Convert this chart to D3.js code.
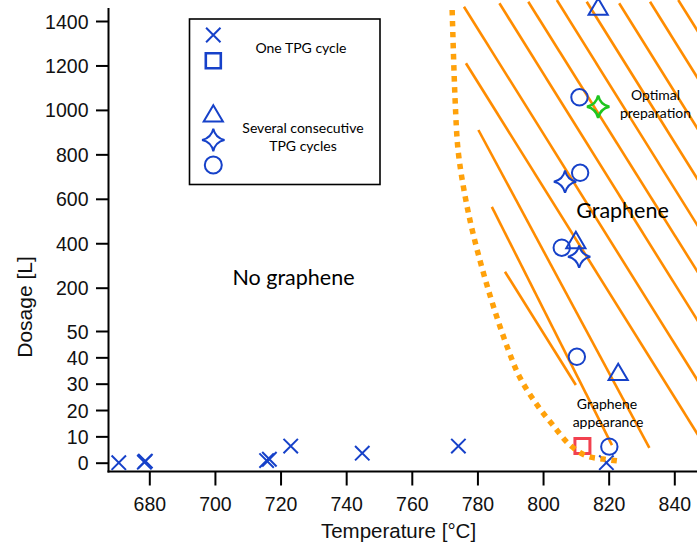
<!DOCTYPE html>
<html><head><meta charset="utf-8">
<script src="https://cdn.jsdelivr.net/npm/d3@7"></script>
<style>
html,body{margin:0;padding:0;background:#fff;}
svg{display:block;}
</style></head>
<body>
<svg id="chart" width="697" height="544"></svg>
<script>
// ---------- data ----------
const xTicks = [680, 700, 720, 740, 760, 780, 800, 820, 840];
const yTicks = [0, 10, 20, 30, 40, 50, 200, 400, 600, 800, 1000, 1200, 1400];

// One TPG cycle (crosses)
const crossT    = [670.7, 678.5, 678.8, 715.75, 716.6, 723.1, 744.9, 774.2, 819.3];
const crossDose = [0, 0.2, 0.6, 0.8, 1.3, 6.3, 3.6, 6.3, 0];
// One TPG cycle (square, graphene appearance)
const squareT    = [812.0];
const squareDose = [6.3];
// Several consecutive TPG cycles
const triT    = [816.8, 810.0, 822.9];
const triDose = [1465, 414.6, 34.5];
const starT    = [806.7, 811.0];
const starDose = [677, 339.5];
const circT    = [820.2, 810.3, 805.7, 811.3, 811.1];
const circDose = [6.1, 40.2, 380, 717, 1056.7];
// Optimal preparation
const optT    = [816.8];
const optDose = [1014.4];

// Boundary of the graphene region (dotted curve)
const boundT    = [772.3, 773.2, 774.1, 775.9, 778.7, 783.8, 789.3, 793.0, 798.2, 803.0, 808.2, 813.4, 818.3, 823.2];
const boundDose = [1449.5, 1044.5, 819.6, 639.6, 441.6, 174.7, 43.2, 32.2, 21.9, 14.3, 6.7, 2.5, 1.4, 0.6];

// Hatch lines of the graphene region: start (T, dose) -> end (T, dose)
const hatchT0    = [788.4, 784.4, 780.3, 776.5, 775.9, 786.7, 795.5, 804.2, 813.3, 823.2, 832.6, 841.2];
const hatchDose0 = [272, 564, 909.6, 1209.7, 1464.3, 1479.6, 1486.8, 1494.5, 1486.8, 1479.6, 1486.8, 1494.5];
const hatchT1    = [810.0, 821.0, 832.4, 847.8, 847.8, 847.8, 847.8, 847.8, 847.8, 847.8, 847.8, 847.8];
const hatchDose1 = [29.5, 6.7, 5.6, 9.45, 29.8, 73.2, 254.9, 462.8, 671.5, 899.2, 1127.3, 1338.4];

const legendLabels = ["One TPG cycle", "Several consecutive", "TPG cycles"];

// ---------- layout ----------
const svg = d3.select("#chart");
const x = d3.scaleLinear().domain([680, 840]).range([149.3, 674.3]);
const y = d3.scaleLinear().domain([0, 50, 200, 1400]).range([462.7, 331, 287.7, 21]);
const axisX = 108.5, axisY = 471.5;

const BLUE = "#1641c9", ORANGE = "#ff8c00", DOTS = "#ffa10a", RED = "#f2414f", GREEN = "#1fc51f";
const calibri = "Lato, 'Open Sans', sans-serif";
const arial = "'Liberation Sans', Arial, sans-serif";

// symbol paths
const sym = {
  cross: s => `M${-s},${-s}L${s},${s}M${-s},${s}L${s},${-s}`,
  square: s => `M${-s},${-s}H${s}V${s}H${-s}Z`,
  triangle: s => `M0,${-s*0.85}L${s},${s*0.85}L${-s},${s*0.85}Z`,
  star: s => { const k = s*0.18; return `M0,${-s}Q${k},${-k} ${s},0Q${k},${k} 0,${s}Q${-k},${k} ${-s},0Q${-k},${-k} 0,${-s}Z`; },
  circle: s => `M${s},0A${s},${s} 0 1 1 ${-s},0A${s},${s} 0 1 1 ${s},0Z`
};

// ---------- hatch lines ----------
const hatch = d3.range(hatchT0.length).map(i => ({t0: hatchT0[i], d0: hatchDose0[i], t1: hatchT1[i], d1: hatchDose1[i]}));
svg.append("g").selectAll("line").data(hatch).join("line")
  .attr("x1", d => x(d.t0)).attr("y1", d => y(d.d0))
  .attr("x2", d => x(d.t1)).attr("y2", d => y(d.d1))
  .attr("stroke", ORANGE).attr("stroke-width", 2.6);

// ---------- axes ----------
const gx = svg.append("g").attr("transform", `translate(0,${axisY})`)
  .call(d3.axisBottom(x).tickValues(xTicks).tickSize(14).tickPadding(12).tickSizeOuter(0));
gx.select(".domain").remove();
gx.selectAll(".tick line").attr("stroke", "#000").attr("stroke-width", 2);
gx.selectAll(".tick text").attr("font-family", arial).attr("font-size", 19.5).attr("fill", "#111");

const gy = svg.append("g").attr("transform", `translate(${axisX},0)`)
  .call(d3.axisLeft(y).tickValues(yTicks).tickSize(12.5).tickPadding(7.5).tickSizeOuter(0).tickFormat(d3.format("d")));
gy.select(".domain").remove();
gy.selectAll(".tick line").attr("stroke", "#000").attr("stroke-width", 2);
gy.selectAll(".tick text").attr("font-family", arial).attr("font-size", 19.5).attr("fill", "#111").attr("dy", "0.36em");

svg.append("line").attr("x1", axisX - 1).attr("x2", 697).attr("y1", axisY).attr("y2", axisY)
  .attr("stroke", "#000").attr("stroke-width", 2);
svg.append("line").attr("x1", axisX).attr("x2", axisX).attr("y1", 8).attr("y2", axisY + 1)
  .attr("stroke", "#000").attr("stroke-width", 2);

svg.append("text").attr("x", 398.5).attr("y", 537.5).attr("text-anchor", "middle")
  .attr("font-family", arial).attr("font-size", 20.5).attr("fill", "#111").text("Temperature [°C]");
svg.append("text").attr("transform", "translate(31.5,307) rotate(-90)").attr("text-anchor", "middle")
  .attr("font-family", arial).attr("font-size", 21).attr("fill", "#111").text("Dosage [L]");

// ---------- markers ----------
function drawMarkers(ts, ds, type, size, color, sw) {
  svg.append("g").selectAll("path").data(ts.map((t, i) => ({t, d: ds[i]}))).join("path")
    .attr("transform", p => `translate(${x(p.t)},${y(p.d)})`)
    .attr("d", sym[type](size))
    .attr("fill", "none").attr("stroke", color).attr("stroke-width", sw);
}
drawMarkers(crossT, crossDose, "cross", 7.2, BLUE, 2);
drawMarkers(squareT, squareDose, "square", 7.5, RED, 3);
drawMarkers(circT, circDose, "circle", 8.2, BLUE, 2);
drawMarkers(triT, triDose, "triangle", 9.6, BLUE, 2);
drawMarkers(starT, starDose, "star", 11.2, BLUE, 2);
drawMarkers(optT, optDose, "star", 11.2, GREEN, 2.5);

// ---------- boundary dotted curve ----------
const line = d3.line().x(d => x(d[0])).y(d => y(d[1])).curve(d3.curveCatmullRom);
svg.append("path").attr("d", line(boundT.map((t, i) => [t, boundDose[i]])))
  .attr("fill", "none").attr("stroke", DOTS).attr("stroke-width", 5.5).attr("stroke-dasharray", "5.5,5.5");

// ---------- annotations ----------
function txt(xp, yp, s, size) {
  svg.append("text").attr("x", xp).attr("y", yp).attr("text-anchor", "middle")
    .attr("font-family", calibri).attr("font-size", size).attr("fill", "#000").text(s);
}
txt(293.5, 285, "No graphene", 21.5);
txt(622.5, 217.5, "Graphene", 21.5);
txt(655.5, 100, "Optimal", 14);
txt(655.5, 118, "preparation", 14);
txt(607, 408.5, "Graphene", 14);
txt(608, 426.5, "appearance", 14);

// ---------- legend ----------
svg.append("rect").attr("x", 189.5).attr("y", 19).attr("width", 190.5).attr("height", 165.5)
  .attr("fill", "#fff").attr("stroke", "#000").attr("stroke-width", 1.6);
const legendItems = [
  {type: "cross", size: 7.2, ly: 35},
  {type: "square", size: 7.5, ly: 60.7},
  {type: "triangle", size: 9.6, ly: 113.3},
  {type: "star", size: 11.2, ly: 140},
  {type: "circle", size: 8.5, ly: 165}
];
svg.append("g").selectAll("path").data(legendItems).join("path")
  .attr("transform", d => `translate(213.3,${d.ly})`)
  .attr("d", d => sym[d.type](d.size))
  .attr("fill", "none").attr("stroke", BLUE).attr("stroke-width", d => d.type === "square" ? 2.6 : 2);
txt(301, 52.5, legendLabels[0], 14);
txt(303, 132.5, legendLabels[1], 14);
txt(303, 150.5, legendLabels[2], 14);
</script>
</body></html>
